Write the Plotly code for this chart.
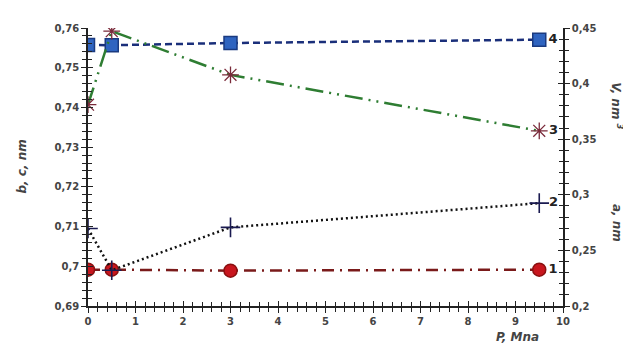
import plotly.graph_objects as go

# Data
P = [0, 0.5, 3, 9.5]
a_nm = [0.2327, 0.2327, 0.2318, 0.2327]      # series 1 (right axis)
b_nm = [0.7095, 0.699, 0.7098, 0.7159]       # series 2 (left axis)
c_nm = [0.7407, 0.7592, 0.7482, 0.7341]      # series 3 (left axis)
V_nm3 = [0.4348, 0.4345, 0.4365, 0.4395]     # series 4 (right axis)
end_labels = ["1", "2", "3", "4"]

x_ticks = list(range(0, 11))
left_range = [0.69, 0.76]
right_range = [0.2, 0.45]

def lab(i, n):
    return ["" for _ in range(n - 1)] + [end_labels[i]]

tfont = dict(family="DejaVu Sans", size=13, color="#222", weight="bold")

fig = go.Figure()

# right-axis series (base y axis)
fig.add_trace(go.Scatter(
    x=P, y=V_nm3, yaxis="y", mode="lines+markers+text",
    text=lab(3, len(P)), textposition="middle right", textfont=tfont,
    line=dict(color="#1a2f7a", width=2.5, dash="7px,4px"),
    marker=dict(symbol="square", size=13, color="#2f64c0", line=dict(color="#1a3a80", width=1.5)),
))
fig.add_trace(go.Scatter(
    x=P, y=a_nm, yaxis="y", mode="lines+markers+text",
    text=lab(0, len(P)), textposition="middle right", textfont=tfont,
    line=dict(color="#7a1a1a", width=2.5, dash="12px,6px,2px,6px"),
    marker=dict(symbol="circle", size=13, color="#c8161e", line=dict(color="#8a1010", width=1.5)),
))
# left-axis series (overlaying y2)
fig.add_trace(go.Scatter(
    x=P, y=c_nm, yaxis="y2", mode="lines+markers+text",
    text=lab(2, len(P)), textposition="middle right", textfont=tfont,
    line=dict(color="#2e7d32", width=2.5, dash="18px,6px,2px,6px,2px,6px"),
    marker=dict(symbol="asterisk-open", size=14, color="#7a2a3a", line=dict(color="#7a2a3a", width=1.3)),
))
fig.add_trace(go.Scatter(
    x=P, y=b_nm, yaxis="y2", mode="lines+markers+text",
    text=lab(1, len(P)), textposition="middle right", textfont=tfont,
    line=dict(color="#111", width=2.5, dash="2px,3px"),
    marker=dict(symbol="cross-thin-open", size=14, color="#1a1a50", line=dict(color="#1a1a50", width=1.6)),
))
# invisible carriers so the inside-tick overlay axes get drawn
fig.add_trace(go.Scatter(x=P, y=a_nm, xaxis="x2", yaxis="y3", mode="markers",
                         marker=dict(opacity=0), hoverinfo="skip"))
fig.add_trace(go.Scatter(x=P, y=b_nm, xaxis="x2", yaxis="y4", mode="markers",
                         marker=dict(opacity=0), hoverinfo="skip"))

tick_font = dict(family="DejaVu Sans", size=10, color="#444", weight="bold")
common = dict(showgrid=False, zeroline=False, showline=True, linecolor="#222", linewidth=1.5,
              tickcolor="#222", tickwidth=1.3)

fig.update_layout(
    width=631, height=345,
    margin=dict(l=80, r=76, t=20, b=47),
    plot_bgcolor="white", paper_bgcolor="white",
    showlegend=False,
    separators=", ",
    xaxis=dict(range=[0, 10], tickmode="array", tickvals=x_ticks, ticks="outside", ticklen=5,
               tickfont=tick_font, minor=dict(dtick=0.2, ticks="outside", ticklen=4, tickcolor="#222"),
               anchor="y", **common),
    xaxis2=dict(range=[0, 10], overlaying="x", anchor="y", side="bottom", tickmode="array", tickvals=x_ticks,
                ticks="inside", ticklen=5, showticklabels=False,
                minor=dict(dtick=0.2, ticks="inside", ticklen=4, tickcolor="#222"), **common),
    yaxis=dict(range=right_range, side="right", anchor="x", dtick=0.05, tick0=0.2, ticks="outside", ticklen=5,
               tickfont=tick_font, minor=dict(dtick=0.01, ticks="outside", ticklen=4, tickcolor="#222"), **common),
    yaxis2=dict(range=left_range, side="left", overlaying="y", anchor="x", dtick=0.01, tick0=0.69,
                ticks="outside", ticklen=5, tickfont=tick_font,
                minor=dict(dtick=0.002, ticks="outside", ticklen=4, tickcolor="#222"), **common),
    yaxis3=dict(range=right_range, side="right", overlaying="y", anchor="x", dtick=0.05, tick0=0.2,
                ticks="inside", ticklen=5, showticklabels=False,
                minor=dict(dtick=0.01, ticks="inside", ticklen=4, tickcolor="#222"), **common),
    yaxis4=dict(range=left_range, side="left", overlaying="y", anchor="x", dtick=0.01, tick0=0.69,
                ticks="inside", ticklen=5, showticklabels=False,
                minor=dict(dtick=0.002, ticks="inside", ticklen=4, tickcolor="#222"), **common),
)

title_font = dict(family="DejaVu Sans", size=12, color="#444", weight="bold", style="italic")
fig.add_annotation(text="b, c, nm", xref="paper", yref="paper", x=-0.14, y=0.5, textangle=-90,
                   showarrow=False, font=title_font, xanchor="center", yanchor="middle")
fig.add_annotation(text="V, nm <sup>3</sup>", xref="paper", yref="paper", x=1.115, y=0.72, textangle=90,
                   showarrow=False, font=title_font, xanchor="center", yanchor="middle")
fig.add_annotation(text="a, nm", xref="paper", yref="paper", x=1.115, y=0.3, textangle=90,
                   showarrow=False, font=title_font, xanchor="center", yanchor="middle")
fig.add_annotation(text="P, Mna", xref="paper", yref="paper", x=0.905, y=-0.11,
                   showarrow=False, font=title_font, xanchor="center", yanchor="middle")

fig.write_html("out.html")
